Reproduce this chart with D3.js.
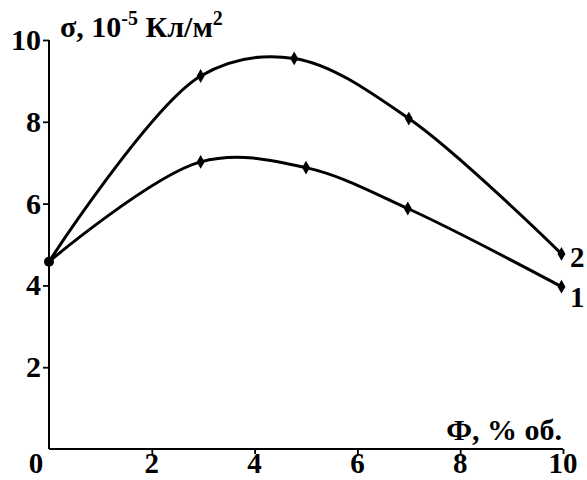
<!DOCTYPE html>
<html>
<head>
<meta charset="utf-8">
<script src="https://cdn.jsdelivr.net/npm/d3@7"></script>
<style>
html,body{margin:0;padding:0;background:#fff;}
svg{display:block;}
text{font-family:"Liberation Serif","Times New Roman",serif;font-weight:bold;fill:#000;}
</style>
</head>
<body>
<svg id="chart" width="587" height="480"></svg>
<script>
// Data
const xTicks = [0, 2, 4, 6, 8, 10];
const yTicks = [2, 4, 6, 8, 10];
const series1X = [0, 2.95, 5.0, 6.98, 9.97];
const series1Y = [4.58, 7.02, 6.88, 5.88, 3.97];
const series2X = [0, 2.95, 4.77, 7.0, 9.97];
const series2Y = [4.58, 9.12, 9.55, 8.08, 4.77];
const seriesLabels = ["1", "2"];
const xTitle = "Ф, % об.";

const svg = d3.select("#chart");
const x = d3.scaleLinear().domain([0, 10]).range([49, 563]);
const y = d3.scaleLinear().domain([0, 10]).range([449, 40]);

// axes (ticks via d3 axes)
const xAxis = svg.append("g").attr("transform", `translate(0,${y(0)})`)
  .call(d3.axisBottom(x).tickValues(xTicks.filter(d => d > 0)).tickSize(5).tickFormat(""));
const yAxis = svg.append("g").attr("transform", `translate(${x(0)},0)`)
  .call(d3.axisLeft(y).tickValues(yTicks).tickSize(6).tickFormat(""));
[xAxis, yAxis].forEach(g => {
  g.select(".domain").remove();
  g.selectAll(".tick line").attr("stroke", "#000").attr("stroke-width", 1.8);
});
svg.append("line").attr("x1", x(0)).attr("x2", x(10)).attr("y1", y(0)).attr("y2", y(0))
  .attr("stroke", "#000").attr("stroke-width", 2);
svg.append("line").attr("x1", x(0)).attr("x2", x(0)).attr("y1", y(0)).attr("y2", y(10))
  .attr("stroke", "#000").attr("stroke-width", 2);

// tick labels
svg.append("g").selectAll("text").data(xTicks).join("text")
  .attr("x", d => d === 0 ? x(d) - 13 : x(d))
  .attr("y", 473)
  .attr("text-anchor", "middle")
  .attr("font-size", 29)
  .text(d => d);
svg.append("g").selectAll("text").data(yTicks).join("text")
  .attr("x", 41)
  .attr("y", d => y(d) + 10)
  .attr("text-anchor", "end")
  .attr("font-size", 30)
  .text(d => d);

// titles
const yt = svg.append("text").attr("x", 60).attr("y", 37).attr("font-size", 30);
yt.append("tspan").text("σ, 10");
yt.append("tspan").attr("dy", -12).attr("font-size", 20).text("-5");
yt.append("tspan").attr("dy", 12).text(" Кл/м");
yt.append("tspan").attr("dy", -12).attr("font-size", 20).text("2");

svg.append("text").attr("x", 562).attr("y", 440).attr("text-anchor", "end")
  .attr("font-size", 30).text(xTitle);

// curves
const line = d3.line().x(d => x(d[0])).y(d => y(d[1])).curve(d3.curveCatmullRom);
const s1 = series1X.map((v, i) => [v, series1Y[i]]);
const s2 = series2X.map((v, i) => [v, series2Y[i]]);
[s1, s2].forEach(s => {
  svg.append("path").attr("d", line(s)).attr("fill", "none")
    .attr("stroke", "#000").attr("stroke-width", 3);
  svg.append("g").selectAll("path").data(s.slice(1)).join("path")
    .attr("d", d3.symbol().type(d3.symbolDiamond).size(55))
    .attr("transform", d => `translate(${x(d[0])},${y(d[1])})`)
    .attr("fill", "#000");
});
svg.append("circle").attr("cx", x(0)).attr("cy", y(series1Y[0])).attr("r", 5).attr("fill", "#000");

// series labels
svg.append("text").attr("x", 570).attr("y", y(series1Y[4]) + 20).attr("font-size", 29).text(seriesLabels[0]);
svg.append("text").attr("x", 570).attr("y", y(series2Y[4]) + 13).attr("font-size", 29).text(seriesLabels[1]);
</script>
</body>
</html>
